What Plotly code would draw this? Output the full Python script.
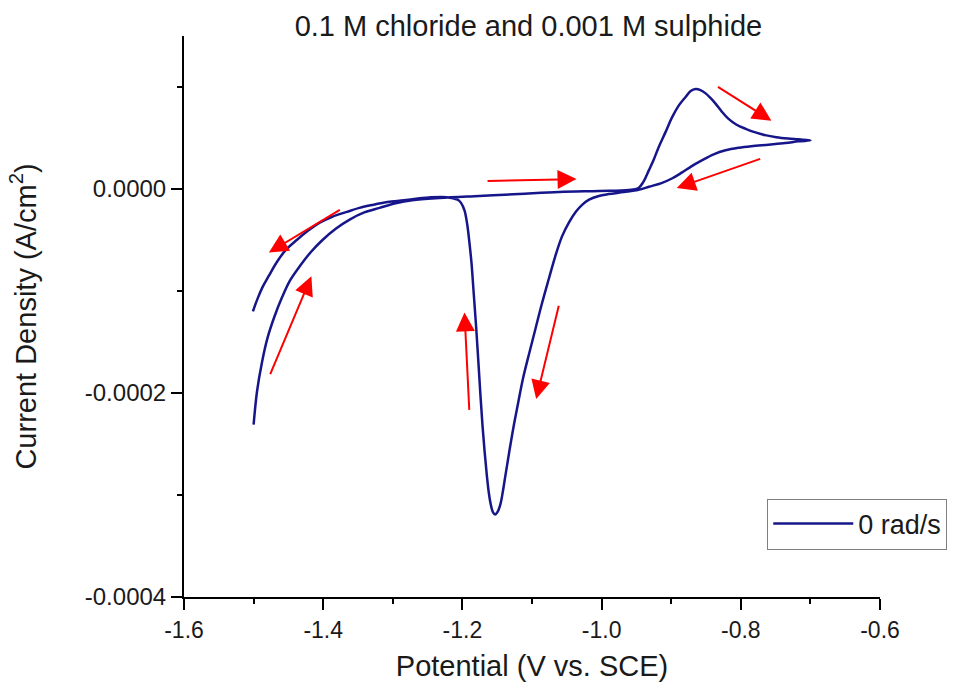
import plotly.graph_objects as go

# Cyclic voltammogram: potential (V vs. SCE) and current density (A/cm^2), in scan order
potential = [
    -1.500, -1.495, -1.488, -1.480, -1.470, -1.459, -1.448, -1.434, -1.418,
    -1.401, -1.382, -1.362, -1.341, -1.319, -1.296, -1.272, -1.233, -1.176, -1.119,
    -1.061, -1.004, -0.961, -0.947, -0.940, -0.932, -0.925, -0.918, -0.908, -0.899,
    -0.889, -0.879, -0.872, -0.865, -0.858, -0.851, -0.844, -0.836, -0.828, -0.818,
    -0.806, -0.793, -0.779, -0.765, -0.749, -0.732, -0.717, -0.700,
    -0.717, -0.736, -0.760, -0.785, -0.803, -0.822, -0.839, -0.856, -0.871, -0.885,
    -0.899, -0.914, -0.932, -0.947, -0.968, -0.990, -1.004, -1.018, -1.028, -1.037,
    -1.047, -1.057, -1.067, -1.076, -1.086, -1.095, -1.104, -1.113, -1.120, -1.127,
    -1.133, -1.138, -1.142, -1.145, -1.149, -1.153, -1.156, -1.159, -1.162, -1.165,
    -1.168, -1.171, -1.174, -1.177, -1.180, -1.184, -1.187, -1.190, -1.193, -1.197,
    -1.202, -1.207, -1.223, -1.248, -1.281, -1.305, -1.329, -1.348, -1.366, -1.387,
    -1.405, -1.422, -1.438, -1.454, -1.467, -1.478, -1.487, -1.494, -1.501,
]
current = [
    -2.31e-4, -1.98e-4, -1.70e-4, -1.46e-4, -1.25e-4, -1.06e-4, -0.90e-4, -0.76e-4, -0.62e-4,
    -0.50e-4, -0.39e-4, -0.30e-4, -0.23e-4, -0.185e-4, -0.140e-4, -0.110e-4, -0.088e-4, -0.068e-4, -0.049e-4,
    -0.029e-4, -0.019e-4, -0.010e-4, 0.010e-4, 0.070e-4, 0.185e-4, 0.29e-4, 0.41e-4, 0.56e-4, 0.70e-4,
    0.82e-4, 0.905e-4, 0.96e-4, 0.98e-4, 0.97e-4, 0.94e-4, 0.895e-4, 0.835e-4, 0.765e-4, 0.69e-4,
    0.63e-4, 0.59e-4, 0.555e-4, 0.528e-4, 0.508e-4, 0.495e-4, 0.487e-4, 0.477e-4,
    0.467e-4, 0.450e-4, 0.435e-4, 0.420e-4, 0.405e-4, 0.38e-4, 0.34e-4, 0.28e-4, 0.222e-4, 0.160e-4,
    0.103e-4, 0.058e-4, 0.022e-4, -0.008e-4, -0.030e-4, -0.050e-4, -0.068e-4, -0.105e-4, -0.156e-4, -0.224e-4,
    -0.33e-4, -0.467e-4, -0.67e-4, -0.885e-4, -1.13e-4, -1.37e-4, -1.61e-4, -1.86e-4, -2.10e-4, -2.35e-4,
    -2.59e-4, -2.80e-4, -2.97e-4, -3.08e-4, -3.16e-4, -3.19e-4, -3.17e-4, -3.10e-4, -2.98e-4, -2.80e-4,
    -2.58e-4, -2.33e-4, -2.03e-4, -1.70e-4, -1.38e-4, -1.00e-4, -0.72e-4, -0.52e-4, -0.35e-4, -0.210e-4,
    -0.136e-4, -0.105e-4, -0.080e-4, -0.083e-4, -0.107e-4, -0.126e-4, -0.156e-4, -0.185e-4, -0.224e-4, -0.272e-4,
    -0.33e-4, -0.41e-4, -0.50e-4, -0.60e-4, -0.72e-4, -0.85e-4, -0.96e-4, -1.07e-4, -1.20e-4,
]

# Scan-direction arrows (tail -> head), in data coordinates
arrow_tail_x = [-1.374, -1.477, -1.190, -1.061, -1.166, -0.835, -0.770]
arrow_tail_y = [-0.195e-4, -1.83e-4, -2.18e-4, -1.13e-4, 0.078e-4, 1.01e-4, 0.30e-4]
arrow_head_x = [-1.478, -1.417, -1.197, -1.094, -1.036, -0.756, -0.892]
arrow_head_y = [-0.623e-4, -0.856e-4, -1.21e-4, -2.06e-4, 0.097e-4, 0.67e-4, 0.01e-4]

x_ticks = [-1.6, -1.4, -1.2, -1.0, -0.8, -0.6]
x_ticktext = ["-1.6", "-1.4", "-1.2", "-1.0", "-0.8", "-0.6"]
x_minor = [-1.5, -1.3, -1.1, -0.9, -0.7]
y_ticks = [-0.0004, -0.0002, 0.0]
y_ticktext = ["-0.0004", "-0.0002", "0.0000"]
y_minor = [-0.0003, -0.0001, 0.0001]

FONT = "Liberation Sans, Arial, sans-serif"
TXT = "#1a1a1a"

fig = go.Figure()
fig.add_trace(go.Scatter(
    x=potential, y=current, mode="lines", name="0 rad/s",
    line=dict(color="#16168a", width=2.5, shape="spline", smoothing=1.0),
))

for tx, ty, hx, hy in zip(arrow_tail_x, arrow_tail_y, arrow_head_x, arrow_head_y):
    fig.add_annotation(
        x=hx, y=hy, ax=tx, ay=ty, xref="x", yref="y", axref="x", ayref="y",
        text="", showarrow=True, arrowhead=2, arrowsize=1.9, arrowwidth=2,
        arrowcolor="#ff0000", standoff=0, startstandoff=0,
    )

fig.update_layout(
    width=959, height=689,
    margin=dict(l=184, r=77, t=36, b=89),
    paper_bgcolor="white", plot_bgcolor="white",
    font=dict(family=FONT, color=TXT),
    title=dict(text="0.1 M chloride and 0.001 M sulphide", x=0.551, xanchor="center",
               y=0.963, yanchor="middle", font=dict(size=29, family=FONT, color=TXT)),
    showlegend=True,
    legend=dict(x=0.838, y=0.1755, xanchor="left", yanchor="top",
                bordercolor="#808080", borderwidth=1, bgcolor="white",
                font=dict(size=27, family=FONT, color=TXT), itemwidth=80),
)
fig.update_xaxes(
    range=[-1.6, -0.6], showgrid=False, zeroline=False,
    showline=True, linecolor="black", linewidth=2,
    ticks="outside", ticklen=11, tickwidth=2, tickcolor="black",
    tickvals=x_ticks, ticktext=x_ticktext, tickfont=dict(size=23, family=FONT, color=TXT),
    minor=dict(tickvals=x_minor, ticks="outside", ticklen=5, tickwidth=2, tickcolor="black", showgrid=False),
    title=dict(text="Potential (V vs. SCE)", font=dict(size=29, family=FONT, color=TXT), standoff=14),
)
fig.update_yaxes(
    range=[-0.0004, 0.00015], showgrid=False, zeroline=False,
    showline=True, linecolor="black", linewidth=2,
    ticks="outside", ticklen=11, tickwidth=2, tickcolor="black",
    tickvals=y_ticks, ticktext=y_ticktext, tickfont=dict(size=24, family=FONT, color=TXT),
    minor=dict(tickvals=y_minor, ticks="outside", ticklen=5, tickwidth=2, tickcolor="black", showgrid=False),
    title=dict(text="Current Density (A/cm<sup>2</sup>)", font=dict(size=29, family=FONT, color=TXT), standoff=40),
)

fig.write_html("out.html")
